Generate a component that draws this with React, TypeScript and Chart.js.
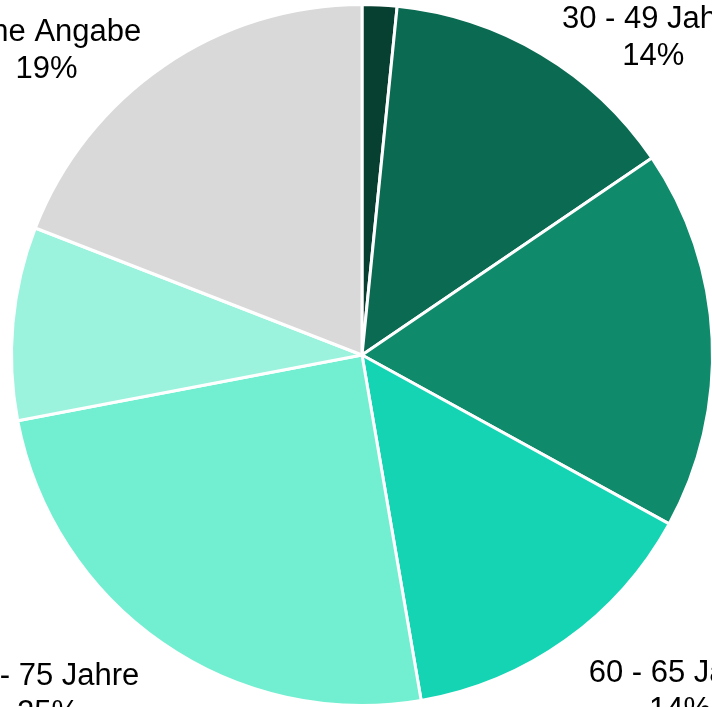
import React, { useEffect, useRef } from "react";
import { Chart, registerables } from "chart.js";

Chart.register(...registerables);

const categories = [
  "< 30 Jahre",
  "30 - 49 Jahre",
  "50 - 59 Jahre",
  "60 - 65 Jahre",
  "66 - 75 Jahre",
  "> 75 Jahre",
  "keine Angabe",
];
const shares = [1.6, 13.9, 17.5, 14.3, 24.7, 8.9, 19.1];
const sliceColors = [
  "#073f30",
  "#0b6a52",
  "#0f8a6a",
  "#14d4b4",
  "#72efd0",
  "#9bf3de",
  "#d9d9d9",
];

const CANVAS = 1100;
const PAD = 198;
const FONT_SIZE = 31;
const LINE_H = 37;
const LABEL_DIST = 1.115;
const MIN_LABEL_SHARE = 3;

const outsideLabels = {
  id: "outsideLabels",
  afterDatasetsDraw(chart: any) {
    const ctx = chart.ctx;
    const meta = chart.getDatasetMeta(0);
    const data = chart.data.datasets[0].data as number[];
    const total = data.reduce((a, b) => a + b, 0);
    ctx.save();
    ctx.font = `${FONT_SIZE}px "Liberation Sans", Arial, sans-serif`;
    ctx.fillStyle = "#000";
    ctx.textBaseline = "middle";
    ctx.textAlign = "center";
    meta.data.forEach((arc: any, i: number) => {
      const pct = (data[i] / total) * 100;
      if (pct < MIN_LABEL_SHARE) return;
      const p = arc.getProps(["x", "y", "startAngle", "endAngle", "outerRadius"], true);
      const mid = (p.startAngle + p.endAngle) / 2;
      const r = p.outerRadius * LABEL_DIST;
      const ax = p.x + Math.cos(mid) * r;
      const ay = p.y + Math.sin(mid) * r;
      const lines = [String(chart.data.labels[i]), Math.round(pct) + "%"];
      const w = Math.max(...lines.map((l) => ctx.measureText(l).width));
      const cxText = Math.cos(mid) >= 0 ? ax + w / 2 : ax - w / 2;
      lines.forEach((l, k) => ctx.fillText(l, cxText, ay + k * LINE_H));
    });
    ctx.restore();
  },
};

export default function App() {
  const ref = useRef<HTMLCanvasElement | null>(null);
  useEffect(() => {
    if (!ref.current) return;
    const chart = new Chart(ref.current, {
      type: "pie",
      data: {
        labels: categories,
        datasets: [
          {
            data: shares,
            backgroundColor: sliceColors,
            borderColor: "#ffffff",
            borderWidth: 3,
          },
        ],
      },
      options: {
        responsive: false,
        animation: false,
        devicePixelRatio: 1,
        layout: { padding: PAD },
        plugins: {
          legend: { display: false },
          tooltip: { enabled: false },
        },
      },
      plugins: [outsideLabels],
    });
    return () => chart.destroy();
  }, []);
  return (
    <div
      style={{
        position: "fixed",
        left: 0,
        top: 0,
        width: 712,
        height: 707,
        overflow: "hidden",
        background: "#fff",
      }}
    >
      <canvas
        ref={ref}
        width={CANVAS}
        height={CANVAS}
        style={{ position: "absolute", left: 362 - CANVAS / 2, top: 355 - CANVAS / 2, width: CANVAS, height: CANVAS }}
      />
    </div>
  );
}
